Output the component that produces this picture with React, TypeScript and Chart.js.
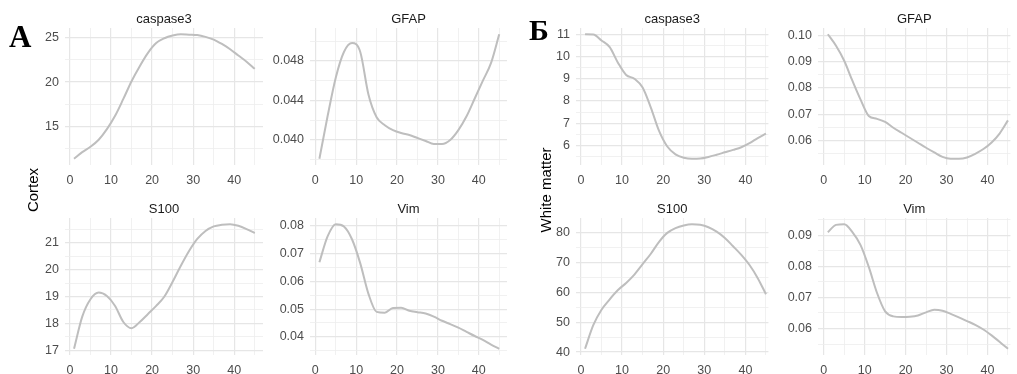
import React, { useEffect, useRef } from "react";
import { Chart, registerables } from "chart.js";

Chart.register(...registerables);

// ---- data ----
const days = [1, 3, 5, 7, 9, 11, 13, 15, 17, 19, 21, 23, 25, 27, 29, 31, 33, 35, 37, 39, 41, 43, 45];

const cortexCaspase3 = [11.35, 12.1, 12.7, 13.5, 14.7, 16.2, 18.1, 20.1, 21.8, 23.3, 24.4, 24.95, 25.25, 25.4, 25.35, 25.3, 25.1, 24.8, 24.3, 23.7, 23.0, 22.3, 21.5];
const cortexGFAP = [0.0381, 0.0424, 0.0463, 0.0489, 0.0498, 0.0489, 0.0446, 0.0423, 0.0415, 0.041, 0.0407, 0.0405, 0.0402, 0.0399, 0.0396, 0.0396, 0.04, 0.041, 0.0424, 0.0442, 0.046, 0.0478, 0.0507];
const cortexS100 = [17.05, 18.25, 18.9, 19.15, 19.02, 18.65, 18.05, 17.82, 18.05, 18.35, 18.65, 19.0, 19.55, 20.15, 20.7, 21.15, 21.45, 21.62, 21.68, 21.7, 21.64, 21.52, 21.37];
const cortexVim = [0.0669, 0.0762, 0.0806, 0.0798, 0.0751, 0.0665, 0.0555, 0.049, 0.0487, 0.0504, 0.0505, 0.0494, 0.0489, 0.0484, 0.0473, 0.0458, 0.0446, 0.0433, 0.0418, 0.0403, 0.0389, 0.0372, 0.0357];

const whiteCaspase3 = [11.0, 10.99, 10.72, 10.42, 9.72, 9.17, 9.0, 8.6, 7.7, 6.65, 5.95, 5.6, 5.45, 5.4, 5.41, 5.48, 5.58, 5.69, 5.8, 5.92, 6.1, 6.33, 6.53];
const whiteGFAP = [0.1004, 0.096, 0.0903, 0.0827, 0.0755, 0.0693, 0.0682, 0.067, 0.0648, 0.0629, 0.061, 0.0591, 0.0572, 0.0554, 0.0537, 0.053, 0.053, 0.0535, 0.0549, 0.0567, 0.0592, 0.0627, 0.0676];
const whiteS100 = [41.1, 49.0, 54.2, 57.7, 60.8, 63.2, 66.0, 69.5, 73.0, 77.0, 80.0, 81.6, 82.5, 82.9, 82.7, 81.9, 80.4, 78.3, 75.5, 72.6, 69.2, 64.8, 59.4];
const whiteVim = [0.0909, 0.0933, 0.0935, 0.091, 0.0868, 0.0798, 0.0715, 0.0655, 0.0639, 0.0637, 0.0638, 0.0642, 0.0652, 0.066, 0.0657, 0.0647, 0.0636, 0.0624, 0.0612, 0.0597, 0.0578, 0.0557, 0.0535];

const xGridTicks = [0, 5, 10, 15, 20, 25, 30, 35, 40, 45];
const xTickLabels = ["0", "10", "20", "30", "40"];
const xLabelValues = [0, 10, 20, 30, 40];

const cortexCaspase3Ticks = [15, 20, 25];
const cortexCaspase3Labels = ["15", "20", "25"];
const cortexGFAPTicks = [0.04, 0.044, 0.048];
const cortexGFAPLabels = ["0.040", "0.044", "0.048"];
const cortexS100Ticks = [17, 18, 19, 20, 21];
const cortexS100Labels = ["17", "18", "19", "20", "21"];
const cortexVimTicks = [0.04, 0.05, 0.06, 0.07, 0.08];
const cortexVimLabels = ["0.04", "0.05", "0.06", "0.07", "0.08"];

const whiteCaspase3Ticks = [6, 7, 8, 9, 10, 11];
const whiteCaspase3Labels = ["6", "7", "8", "9", "10", "11"];
const whiteGFAPTicks = [0.06, 0.07, 0.08, 0.09, 0.1];
const whiteGFAPLabels = ["0.06", "0.07", "0.08", "0.09", "0.10"];
const whiteS100Ticks = [40, 50, 60, 70, 80];
const whiteS100Labels = ["40", "50", "60", "70", "80"];
const whiteVimTicks = [0.06, 0.07, 0.08, 0.09];
const whiteVimLabels = ["0.06", "0.07", "0.08", "0.09"];

const FONT = '"Liberation Sans", Arial, sans-serif';
const Y_W = 60;
const TITLE_H = 20;
const X_H = 25;
const AREA_H = 137;

type PanelProps = {
  title: string;
  values: number[];
  ticks: number[];
  labels: string[];
  left: number;
  top: number;
  width: number;
  xmin: number;
  xmax: number;
};

const panelTitlePlugin = {
  id: "panelTitle",
  afterDraw(chart: any, _args: any, opts: any) {
    const { ctx, chartArea } = chart;
    ctx.save();
    ctx.font = `13px ${FONT}`;
    ctx.fillStyle = "#1a1a1a";
    ctx.textAlign = "center";
    ctx.textBaseline = "middle";
    ctx.fillText(opts.text, (chartArea.left + chartArea.right) / 2, chartArea.top - 9);
    ctx.restore();
  },
};

function Panel({ title, values, ticks, labels, left, top, width, xmin, xmax }: PanelProps) {
  const ref = useRef<HTMLCanvasElement | null>(null);
  const cw = Y_W + width + 2;
  const ch = TITLE_H + AREA_H + X_H;

  useEffect(() => {
    if (!ref.current) return;
    const vmin = Math.min(...values);
    const vmax = Math.max(...values);
    const span = vmax - vmin;
    const ymin = vmin - 0.05 * span;
    const ymax = vmax + 0.05 * span;
    const step = ticks[1] - ticks[0];
    const all: number[] = [];
    for (let v = ticks[0] - 6 * step; v <= ticks[ticks.length - 1] + 6 * step + 1e-9; v += step / 2) {
      if (v >= ymin && v <= ymax) all.push(v);
    }
    const isMajor = (v: number) => ticks.some((t) => Math.abs(t - v) < step * 1e-3);
    const labelFor = (v: number) => {
      const i = ticks.findIndex((t) => Math.abs(t - v) < step * 1e-3);
      return i >= 0 ? labels[i] : "";
    };
    const isMajorX = (v: number) => v % 10 === 0;

    const chart = new Chart(ref.current, {
      type: "line",
      data: {
        datasets: [
          {
            data: days.map((d, i) => ({ x: d, y: values[i] })),
            borderColor: "#bebebe",
            borderWidth: 2,
            pointRadius: 0,
            tension: 0.4,
            cubicInterpolationMode: "monotone",
            fill: false,
          },
        ],
      },
      plugins: [panelTitlePlugin],
      options: {
        responsive: false,
        animation: false,
        devicePixelRatio: 1,
        layout: { padding: { left: 0, right: 2, top: TITLE_H, bottom: 0 } },
        plugins: {
          legend: { display: false },
          tooltip: { enabled: false },
          title: { display: false },
          panelTitle: { text: title },
        },
        scales: {
          x: {
            type: "linear",
            min: xmin,
            max: xmax,
            border: { display: false },
            grid: {
              drawTicks: false,
              color: (c: any) => (c.tick && isMajorX(c.tick.value) ? "#e6e6e6" : "#eeeeee"),
              lineWidth: (c: any) => (c.tick && isMajorX(c.tick.value) ? 1.2 : 0.8),
            },
            afterBuildTicks: (s: any) => {
              s.ticks = xGridTicks.filter((v) => v >= xmin && v <= xmax).map((v) => ({ value: v }));
            },
            afterFit: (s: any) => {
              s.height = X_H;
            },
            ticks: {
              autoSkip: false,
              maxRotation: 0,
              padding: 8,
              color: "#4d4d4d",
              font: { family: FONT, size: 12.5 },
              callback: (v: any) => {
                const i = xLabelValues.indexOf(Number(v));
                return i >= 0 ? xTickLabels[i] : "";
              },
            },
          },
          y: {
            type: "linear",
            min: ymin,
            max: ymax,
            border: { display: false },
            grid: {
              drawTicks: false,
              color: (c: any) => (c.tick && isMajor(c.tick.value) ? "#e6e6e6" : "#eeeeee"),
              lineWidth: (c: any) => (c.tick && isMajor(c.tick.value) ? 1.2 : 0.8),
            },
            afterBuildTicks: (s: any) => {
              s.ticks = all.map((v) => ({ value: v }));
            },
            afterFit: (s: any) => {
              s.width = Y_W;
            },
            ticks: {
              autoSkip: false,
              padding: 6,
              color: "#4d4d4d",
              font: { family: FONT, size: 12.5 },
              callback: (v: any) => labelFor(Number(v)),
            },
          },
        },
      },
    } as any);
    return () => chart.destroy();
  }, []);

  return (
    <canvas
      ref={ref}
      width={cw}
      height={ch}
      style={{ position: "absolute", left: left - Y_W, top: top - TITLE_H, width: cw, height: ch }}
    />
  );
}

const rowTop = [28, 218];
const colLeft = [65, 310, 576, 818];
const colWidth = [198, 197, 196, 196];
const colXMin = [-1.2, -1.3, -1.2, -1.4];
const colXMax = [47.0, 46.9, 45.6, 45.6];

export default function App() {
  const p = (c: number) => ({ left: colLeft[c], width: colWidth[c], xmin: colXMin[c], xmax: colXMax[c] });
  return (
    <div style={{ position: "absolute", left: 0, top: 0, width: 1017, height: 374, background: "#fff", overflow: "hidden" }}>
      <Panel title="caspase3" values={cortexCaspase3} ticks={cortexCaspase3Ticks} labels={cortexCaspase3Labels} top={rowTop[0]} {...p(0)} />
      <Panel title="GFAP" values={cortexGFAP} ticks={cortexGFAPTicks} labels={cortexGFAPLabels} top={rowTop[0]} {...p(1)} />
      <Panel title="S100" values={cortexS100} ticks={cortexS100Ticks} labels={cortexS100Labels} top={rowTop[1]} {...p(0)} />
      <Panel title="Vim" values={cortexVim} ticks={cortexVimTicks} labels={cortexVimLabels} top={rowTop[1]} {...p(1)} />
      <Panel title="caspase3" values={whiteCaspase3} ticks={whiteCaspase3Ticks} labels={whiteCaspase3Labels} top={rowTop[0]} {...p(2)} />
      <Panel title="GFAP" values={whiteGFAP} ticks={whiteGFAPTicks} labels={whiteGFAPLabels} top={rowTop[0]} {...p(3)} />
      <Panel title="S100" values={whiteS100} ticks={whiteS100Ticks} labels={whiteS100Labels} top={rowTop[1]} {...p(2)} />
      <Panel title="Vim" values={whiteVim} ticks={whiteVimTicks} labels={whiteVimLabels} top={rowTop[1]} {...p(3)} />

      <div style={{ position: "absolute", left: 9, top: 19, font: `bold 31px "Liberation Serif", "Times New Roman", serif`, color: "#000", lineHeight: "36px" }}>А</div>
      <div style={{ position: "absolute", left: 529, top: 12, font: `bold 30px "Liberation Serif", "Times New Roman", serif`, color: "#000", lineHeight: "36px" }}>Б</div>

      <div style={{ position: "absolute", left: 32, top: 190, transform: "translate(-50%, -50%) rotate(-90deg)", font: `15px ${FONT}`, color: "#000", whiteSpace: "nowrap" }}>Cortex</div>
      <div style={{ position: "absolute", left: 545, top: 190, transform: "translate(-50%, -50%) rotate(-90deg)", font: `15px ${FONT}`, color: "#000", whiteSpace: "nowrap" }}>White matter</div>
    </div>
  );
}
